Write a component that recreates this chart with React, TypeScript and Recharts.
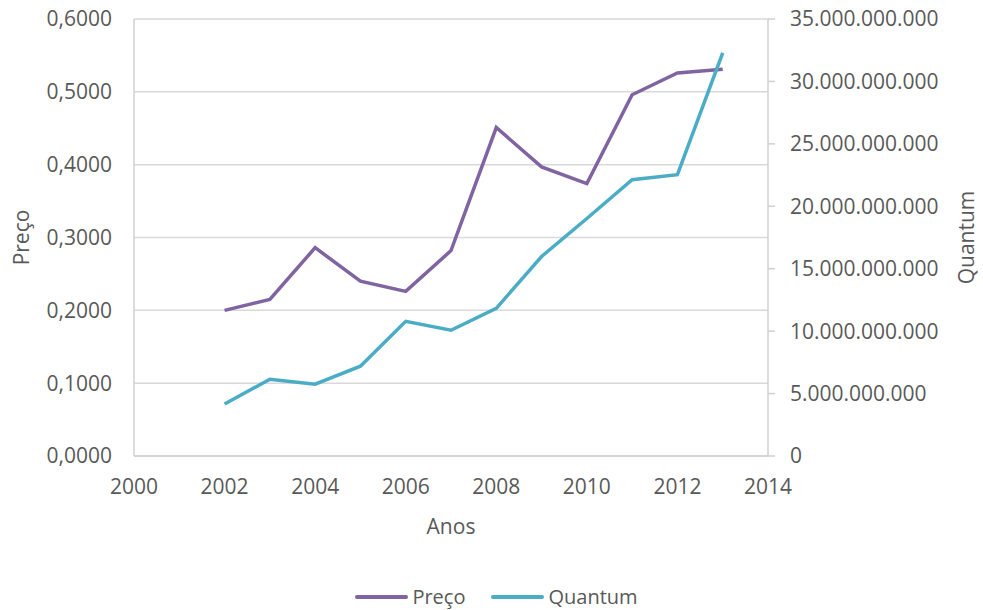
import { LineChart, Line, XAxis, YAxis, CartesianGrid, Legend } from 'recharts';

const anos = [2002, 2003, 2004, 2005, 2006, 2007, 2008, 2009, 2010, 2011, 2012, 2013];
const preco = [0.200, 0.215, 0.286, 0.240, 0.226, 0.282, 0.451, 0.397, 0.374, 0.496, 0.526, 0.531];
const quantum = [4.16e9, 6.15e9, 5.75e9, 7.19e9, 10.79e9, 10.07e9, 11.83e9, 15.98e9, 19.02e9, 22.13e9, 22.53e9, 32.28e9];

const xTicks = [2000, 2002, 2004, 2006, 2008, 2010, 2012, 2014];
const precoTicks = [0, 0.1, 0.2, 0.3, 0.4, 0.5, 0.6];
const quantumTicks = [0, 5e9, 10e9, 15e9, 20e9, 25e9, 30e9, 35e9];

const data = anos.map((ano, i) => ({ ano, preco: preco[i], quantum: quantum[i] }));

const TEXT = '#595959';
const FONT = '"Open Sans", sans-serif';

const fmtPreco = (v: number) => v.toFixed(4).replace('.', ',');
const fmtQuantum = (v: number) => String(Math.round(v)).replace(/\B(?=(\d{3})+(?!\d))/g, '.');

function LegendContent(props: any) {
  const items = props.payload || [];
  return (
    <div style={{ display: 'flex', justifyContent: 'center', gap: 26, fontFamily: FONT, fontSize: 20, color: TEXT, paddingLeft: 10 }}>
      {items.map((it: any) => (
        <div key={it.value} style={{ display: 'flex', alignItems: 'center' }}>
          <div style={{ width: 53, height: 4, borderRadius: 2, background: it.color, marginRight: 4 }} />
          <span>{it.value}</span>
        </div>
      ))}
    </div>
  );
}

export default function App() {
  return (
    <div style={{ width: 983, height: 610, background: '#fff' }}>
      <style>{`body{margin:0}`}</style>
      <LineChart width={983} height={610} data={data} margin={{ top: 19, right: 0, bottom: 0, left: 0 }}>
        <CartesianGrid yAxisId="left" vertical={false} stroke="#d9d9d9" strokeWidth={1.5} />
        <XAxis
          dataKey="ano"
          type="number"
          domain={[2000, 2014]}
          ticks={xTicks}
          height={154}
          tickLine={false}
          tickMargin={17}
          axisLine={{ stroke: '#d0d0d0', strokeWidth: 1.5 }}
          tick={{ fill: TEXT, fontSize: 21, fontFamily: FONT }}
          label={{ value: 'Anos', position: 'center', dy: -6, fill: TEXT, fontSize: 21, fontFamily: FONT }}
        />
        <YAxis
          yAxisId="left"
          width={134}
          domain={[0, 0.6]}
          ticks={precoTicks}
          tickFormatter={fmtPreco}
          tickLine={false}
          tickMargin={16}
          axisLine={{ stroke: '#d0d0d0', strokeWidth: 1.5 }}
          tick={{ fill: TEXT, fontSize: 21, fontFamily: FONT }}
          label={{ value: 'Preço', angle: -90, position: 'center', dx: -45, fill: TEXT, fontSize: 21, fontFamily: FONT }}
        />
        <YAxis
          yAxisId="right"
          orientation="right"
          width={215}
          domain={[0, 35e9]}
          ticks={quantumTicks}
          tickFormatter={fmtQuantum}
          tickSize={7}
          tickMargin={15}
          tickLine={{ stroke: '#d0d0d0', strokeWidth: 1.5 }}
          axisLine={{ stroke: '#d0d0d0', strokeWidth: 1.5 }}
          tick={{ fill: TEXT, fontSize: 21, fontFamily: FONT }}
          label={{ value: 'Quantum', angle: -90, position: 'center', dx: 91, fill: TEXT, fontSize: 21, fontFamily: FONT }}
        />
        <Legend
          layout="horizontal"
          verticalAlign="middle"
          align="center"
          content={LegendContent}
          wrapperStyle={{ position: 'absolute', top: 583, left: 0, width: 983 }}
        />
        <Line yAxisId="left" type="linear" dataKey="preco" name="Preço" stroke="#8064a2" strokeWidth={3.5} dot={false} isAnimationActive={false} />
        <Line yAxisId="right" type="linear" dataKey="quantum" name="Quantum" stroke="#4bacc6" strokeWidth={3.5} dot={false} isAnimationActive={false} />
      </LineChart>
    </div>
  );
}
